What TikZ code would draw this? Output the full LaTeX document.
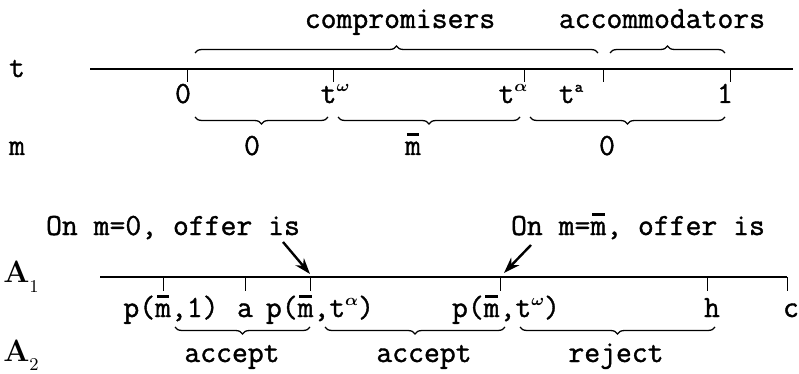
\documentclass[tikz,border=0pt]{standalone}
\usepackage{amsmath}
\usepackage{fontspec}
\newfontfamily\courf{Latin Modern Mono}[FakeBold=1.2]
\usetikzlibrary{decorations.pathreplacing,arrows.meta}
\newcommand\mbr{\leavevmode\hbox{\ooalign{m\cr\hidewidth\raisebox{0.62em}{\rule{0.4em}{0.08em}}\hidewidth\cr}}}
\newcommand\supg[1]{\raisebox{0.36em}{$\scriptscriptstyle\boldsymbol{#1}$}}
\newcommand\supl[1]{\raisebox{0.36em}{\fontsize{8}{8}\selectfont #1}}
\newcommand\subs[1]{\raisebox{-0.3em}{\rmfamily\fontsize{9}{9}\selectfont #1}}
\begin{document}
\begin{tikzpicture}[x=0.5pt,y=-0.5pt,
  font=\courf\fontsize{15.4}{18}\selectfont,
  txt/.style={inner sep=0pt, anchor=base},
  axisline/.style={line width=0.65pt},
  tickline/.style={line width=0.5pt},
  brc/.style={decorate, decoration={brace, amplitude=3.5pt}, line width=0.65pt},
  arr/.style={line width=1.2pt, -{Stealth[length=8pt,width=5.5pt]}}]
\useasboundingbox (0,0) rectangle (799,374);

% ---- t axis ----
\node[txt] (lt) at (17,77) {t};
\coordinate (ts) at (90,69);
\coordinate (te) at (793,69);
\draw[axisline] (ts) -- (te);
\foreach \n/\x in {t0/187, tw/333, ta/524, tb/603, t1/730}{
  \coordinate (\n) at (\x,69);
  \coordinate (\n b) at (\x,82);
  \draw[tickline] (\n) -- (\n b);
}
\node[txt] (l0) at (183,103) {0};
\node[txt] (lw) at (335,103) {t\supg{\omega}};
\node[txt] (la) at (513,103) {t\supg{\alpha}};
\node[txt] (lb) at (571,103) {t\supl{a}};
\node[txt] (l1) at (725,103) {1};

% top braces
\coordinate (c1) at (195,53); \coordinate (c2) at (598,53);
\coordinate (c3) at (610,53); \coordinate (c4) at (725,53);
\draw[brc] (c1) -- (c2);
\draw[brc] (c3) -- (c4);
\node[txt] (comp) at (400,28) {compromisers};
\node[txt] (acc) at (662,28) {accommodators};

% m braces
\node[txt] (lm) at (17,155) {m};
\coordinate (m1) at (195,117); \coordinate (m2) at (328,117);
\coordinate (m3) at (338,117); \coordinate (m4) at (520,117);
\coordinate (m5) at (530,117); \coordinate (m6) at (725,117);
\draw[brc] (m2) -- (m1);
\draw[brc] (m4) -- (m3);
\draw[brc] (m6) -- (m5);
\node[txt] (mv1) at (252,155) {0};
\node[txt] (mv2) at (413,155) {\mbr};
\node[txt] (mv3) at (607,155) {0};

% ---- A1 axis ----
\node[txt] (lA1) at (21,283) {{\rmfamily\bfseries A}\subs{1}};
\coordinate (as) at (100,277);
\coordinate (ae) at (787,277);
\draw[axisline] (as) -- (ae);
\foreach \n/\x in {p1/163, pa/245, pal/310, pom/500, ph/707, pc/787}{
  \coordinate (\n) at (\x,277);
  \coordinate (\n b) at (\x,291);
  \draw[tickline] (\n) -- (\n b);
}
\node[txt] (q1) at (171,317) {p(\mbr,1)};
\node[txt] (q2) at (245,317) {a};
\node[txt] (q3) at (320,317) {p(\mbr,t\supg{\alpha})};
\node[txt] (q4) at (506,317) {p(\mbr,t\supg{\omega})};
\node[txt] (q5) at (712,317) {h};
\node[txt] (q6) at (791,317) {c};

% annotations
\node[txt] (on0) at (173,235) {On m=0, offer is};
\node[txt] (onm) at (638,235) {On m=\mbr, offer is};
\coordinate (ar1s) at (283,242); \coordinate (ar1e) at (310,274);
\coordinate (ar2s) at (531,245); \coordinate (ar2e) at (504,273);
\draw[arr] (ar1s) -- (ar1e);
\draw[arr] (ar2s) -- (ar2e);

% A2 braces
\node[txt] (lA2) at (21,361) {{\rmfamily\bfseries A}\subs{2}};
\coordinate (r1) at (175,327); \coordinate (r2) at (310,327);
\coordinate (r3) at (325,327); \coordinate (r4) at (505,327);
\coordinate (r5) at (520,327); \coordinate (r6) at (715,327);
\draw[brc] (r2) -- (r1);
\draw[brc] (r4) -- (r3);
\draw[brc] (r6) -- (r5);
\node[txt] (acc1) at (232,362) {accept};
\node[txt] (acc2) at (424,362) {accept};
\node[txt] (rej) at (616,362) {reject};
\end{tikzpicture}
\end{document}
